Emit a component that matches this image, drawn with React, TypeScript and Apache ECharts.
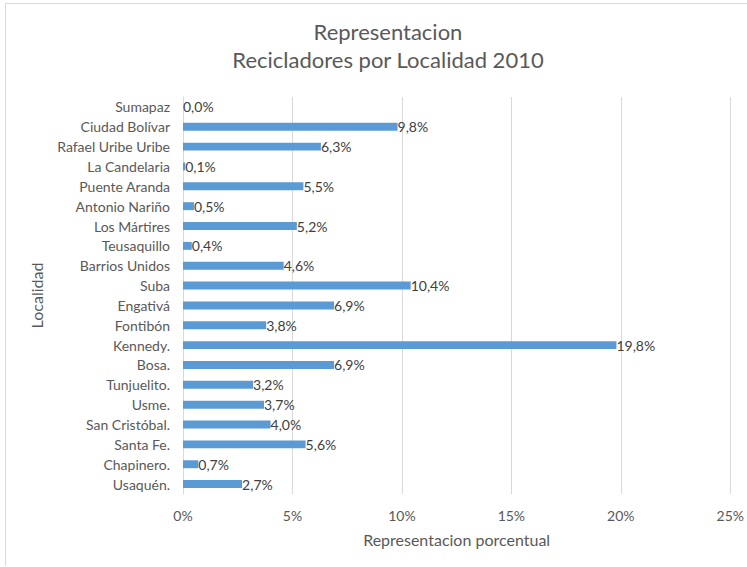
import React, { useEffect, useRef } from "react";
import * as echarts from "echarts";

const categories = [
  "Usaquén.",
  "Chapinero.",
  "Santa Fe.",
  "San Cristóbal.",
  "Usme.",
  "Tunjuelito.",
  "Bosa.",
  "Kennedy.",
  "Fontibón",
  "Engativá",
  "Suba",
  "Barrios Unidos",
  "Teusaquillo",
  "Los Mártires",
  "Antonio Nariño",
  "Puente Aranda",
  "La Candelaria",
  "Rafael Uribe Uribe",
  "Ciudad Bolívar",
  "Sumapaz",
];

const values = [2.7, 0.7, 5.6, 4.0, 3.7, 3.2, 6.9, 19.8, 3.8, 6.9, 10.4, 4.6, 0.4, 5.2, 0.5, 5.5, 0.1, 6.3, 9.8, 0.0];

const xTicks = { min: 0, max: 25, interval: 5 };

const titleLines = ["Representacion", "Recicladores por Localidad 2010"];
const xAxisName = "Representacion porcentual";
const yAxisName = "Localidad";

const FONT = "Lato, 'Open Sans', sans-serif";

export default function App() {
  const ref = useRef<HTMLDivElement>(null);
  useEffect(() => {
    document.body.style.margin = "0";
    if (!ref.current) return;
    const chart = echarts.init(ref.current, undefined, { renderer: "svg" });
    chart.setOption({
      animation: false,
      backgroundColor: "#ffffff",
      title: {
        text: titleLines.join("\n"),
        left: 383,
        textAlign: "center",
        top: 12,
        textStyle: {
          fontFamily: FONT,
          fontSize: 22,
          fontWeight: "normal",
          color: "#595959",
          lineHeight: 28,
        },
      },
      graphic: [
        { type: "line", shape: { x1: 5.5, y1: 3, x2: 5.5, y2: 566 }, style: { stroke: "#d9d9d9", lineWidth: 1 } },
        { type: "line", shape: { x1: 5, y1: 3.5, x2: 747, y2: 3.5 }, style: { stroke: "#d9d9d9", lineWidth: 1 } },
      ],
      grid: { left: 183, right: 14, top: 97, bottom: 73, containLabel: false },
      xAxis: {
        type: "value",
        min: xTicks.min,
        max: xTicks.max,
        interval: xTicks.interval,
        name: xAxisName,
        nameLocation: "middle",
        nameGap: 37,
        nameTextStyle: { fontFamily: FONT, fontSize: 16, color: "#595959" },
        axisLine: { show: false },
        axisTick: { show: false },
        axisLabel: {
          fontFamily: FONT,
          fontSize: 14,
          color: "#595959",
          margin: 14,
          formatter: (v: number) => v + "%",
        },
        splitLine: { show: true, lineStyle: { color: "#d9d9d9", width: 1 } },
      },
      yAxis: {
        type: "category",
        data: categories,
        name: yAxisName,
        nameLocation: "middle",
        nameGap: 139,
        nameRotate: 90,
        nameTextStyle: { fontFamily: FONT, fontSize: 16, color: "#595959" },
        axisLine: { show: true, lineStyle: { color: "#d9d9d9" } },
        axisTick: { show: false },
        axisLabel: { fontFamily: FONT, fontSize: 14, color: "#595959", margin: 13 },
        splitLine: { show: false },
      },
      series: [
        {
          type: "bar",
          data: values,
          barWidth: "40%",
          itemStyle: { color: "#5b9bd5" },
          label: {
            show: true,
            position: "right",
            distance: 0,
            fontFamily: FONT,
            fontSize: 14,
            color: "#404040",
            formatter: (p: any) => Number(p.value).toFixed(1).replace(".", ",") + "%",
          },
        },
      ],
    });
    return () => chart.dispose();
  }, []);
  return <div ref={ref} style={{ width: 747, height: 567 }} />;
}
